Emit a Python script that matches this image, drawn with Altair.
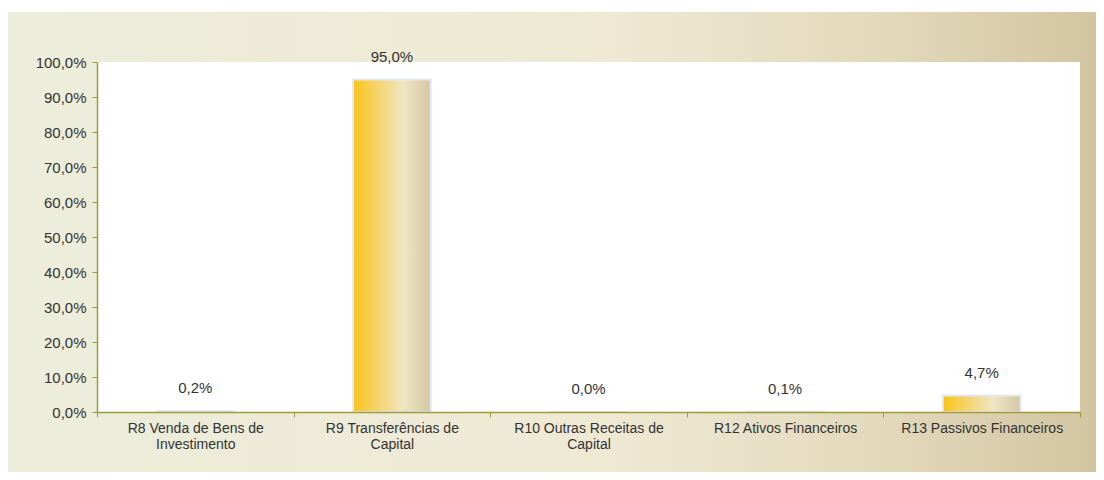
import altair as alt
import pandas as pd

categories = [
    "R8 Venda de Bens de Investimento",
    "R9  Transferências de Capital",
    "R10 Outras Receitas de Capital",
    "R12 Ativos Financeiros",
    "R13 Passivos Financeiros",
]
label_lines = [
    ["R8 Venda de Bens de", "Investimento"],
    ["R9  Transferências de", "Capital"],
    ["R10 Outras Receitas de", "Capital"],
    ["R12 Ativos Financeiros"],
    ["R13 Passivos Financeiros"],
]
values = [0.2, 95.0, 0.0, 0.1, 4.7]  # percent
y_ticks = [0, 10, 20, 30, 40, 50, 60, 70, 80, 90, 100]

df = pd.DataFrame({"cat": categories, "v": values})

W, H = 983, 350
FONT = "Liberation Sans"
AXIS_COLOR = "#9C9B3E"
TEXT_COLOR = "#333333"

# label expression for multi-line category labels
expr = "''"
for c, lines in reversed(list(zip(categories, label_lines))):
    arr = "[" + ",".join("'" + l + "'" for l in lines) + "]"
    expr = f"datum.value == '{c}' ? {arr} : ({expr})"

x_enc = alt.X(
    "cat:N",
    sort=categories,
    scale=alt.Scale(paddingInner=0, paddingOuter=0),
    axis=alt.Axis(
        title=None,
        labelAngle=0,
        labelExpr=expr,
        labelFont=FONT,
        labelFontSize=14,
        labelColor=TEXT_COLOR,
        labelPadding=4,
        labelLineHeight=16,
        tickBand="extent",
        tickSize=5,
        tickColor=AXIS_COLOR,
        domainColor=AXIS_COLOR,
        domainWidth=1.5,
        zindex=2,
        grid=False,
    ),
)
y_enc = alt.Y(
    "v:Q",
    scale=alt.Scale(domain=[0, 100], nice=False),
    axis=alt.Axis(
        title=None,
        values=y_ticks,
        tickCount=11,
        labelOverlap=False,
        labelBound=False,
        labelExpr="replace(format(datum.value, '.1f'), '.', ',') + '%'",
        labelFont=FONT,
        labelFontSize=15,
        labelColor=TEXT_COLOR,
        labelPadding=6,
        tickSize=5,
        tickColor=AXIS_COLOR,
        domainColor=AXIS_COLOR,
        domainWidth=1.5,
        zindex=2,
        grid=False,
    ),
)

one = alt.Data(values=[{"a": 1}])

bg = alt.Chart(one).mark_rect(
    clip=False,
    color=alt.Gradient(
        gradient="linear", x1=0, x2=1, y1=0, y2=0,
        stops=[
            alt.GradientStop(offset=0, color="#ECEDDC"),
            alt.GradientStop(offset=0.55, color="#EFE9D3"),
            alt.GradientStop(offset=0.8, color="#E3D9BC"),
            alt.GradientStop(offset=1, color="#D2C5A0"),
        ],
    ),
).encode(
    x=alt.value(-90), x2=alt.value(1000), y=alt.value(-50), y2=alt.value(420)
)

plotbg = alt.Chart(one).mark_rect(color="white").encode(
    x=alt.value(0), x2=alt.value(W), y=alt.value(0), y2=alt.value(H)
)

bars = alt.Chart(df).mark_bar(
    width=alt.RelativeBandSize(0.395),
    stroke="#E3E8F4",
    strokeWidth=2,
    color=alt.Gradient(
        gradient="linear", x1=0, x2=1, y1=0, y2=0,
        stops=[
            alt.GradientStop(offset=0, color="#FBC318"),
            alt.GradientStop(offset=0.35, color="#F4D675"),
            alt.GradientStop(offset=0.65, color="#EFE6C4"),
            alt.GradientStop(offset=1, color="#D4C7A2"),
        ],
    ),
).encode(x=x_enc, y=y_enc)

labels = alt.Chart(df).transform_calculate(
    lbl="replace(format(datum.v, '.1f'), '.', ',') + '%'"
).mark_text(
    font=FONT, fontSize=15, color=TEXT_COLOR, baseline="bottom", dy=-15
).encode(
    x=x_enc,
    y=y_enc,
    text="lbl:N",
)

chart = alt.layer(bg, plotbg, bars, labels).properties(
    width=W,
    height=H,
    autosize=alt.AutoSizeParams(type="none"),
    padding={"left": 89, "top": 54, "right": 16, "bottom": 60},
    background="white",
).configure_view(stroke=None)

chart.save("out.html", embed_options={"renderer": "svg", "actions": False})
